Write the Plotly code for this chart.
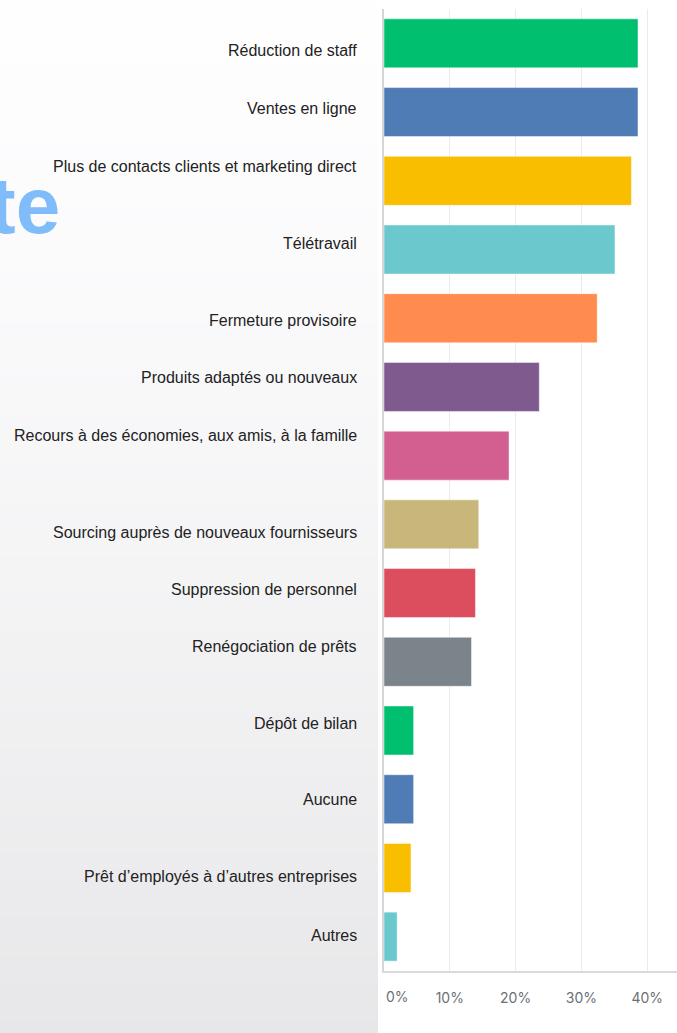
import plotly.graph_objects as go

# Survey answers (multiple choice), share of respondents in %
categories = [
    "Réduction de staff",
    "Ventes en ligne",
    "Plus de contacts clients et marketing direct",
    "Télétravail",
    "Fermeture provisoire",
    "Produits adaptés ou nouveaux",
    "Recours à des économies, aux amis, à la famille",
    "Sourcing auprès de nouveaux fournisseurs",
    "Suppression de personnel",
    "Renégociation de prêts",
    "Dépôt de bilan",
    "Aucune",
    "Prêt d’employés à d’autres entreprises",
    "Autres",
]
shares = [38.6, 38.6, 37.6, 35.1, 32.4, 23.6, 19.0, 14.4, 13.9, 13.3, 4.5, 4.5, 4.1, 2.0]
tick_values = [0, 10, 20, 30, 40]
tick_labels = ["0%", "10%", "20%", "30%", "40%"]

# palette cycling over the bars
palette = ["#00BF6F", "#507CB6", "#F9BE00", "#6BC8CD", "#FF8B4F",
           "#7F5A8E", "#D25F90", "#C8B67B", "#DC4E5D", "#7B848B"]
bar_colors = [palette[i % len(palette)] for i in range(len(categories))]

# vertical nudge (px, positive = down) of each category label
label_nudge = [7, -4, -14, -6, 2, -9, -20, 8, -4, -15, -7, 0, 9, -1]

W, H = 677, 1033
M_L, M_R, M_T, M_B = 384, 0, 9, 62
PW, PH = W - M_L - M_R, H - M_T - M_B


def px_x(px):
    return (px - M_L) / PW


def px_y(py):
    return (H - M_B - py) / PH


fig = go.Figure()
fig.add_trace(go.Bar(
    y=categories,
    x=shares,
    orientation="h",
    marker=dict(color=bar_colors, line=dict(color="rgba(255,255,255,0.45)", width=1)),
    hoverinfo="x+y",
    showlegend=False,
))

# soft grey gradient panel behind the labels
shapes = []
n_strips = 80
top_c, bot_c = (254, 254, 255), (231, 231, 233)
for k in range(n_strips):
    y0 = H * k / n_strips
    y1 = H * (k + 1) / n_strips
    f = ((k + 0.5) / n_strips) ** 1.4
    c = tuple(round(a + (b - a) * f) for a, b in zip(top_c, bot_c))
    shapes.append(dict(
        type="rect", xref="paper", yref="paper", layer="below",
        x0=px_x(0), x1=px_x(378), y0=px_y(y1 + 0.5), y1=px_y(y0),
        fillcolor="rgb(%d,%d,%d)" % c, line=dict(width=0),
    ))

annotations = []
for cat, nudge in zip(categories, label_nudge):
    annotations.append(dict(
        xref="paper", yref="y", x=px_x(359), y=cat, xanchor="right", yanchor="middle",
        yshift=-nudge, text=cat, showarrow=False,
        font=dict(family="Liberation Sans, Arial, sans-serif", size=16, color="#222222"),
    ))

# first tick label sits flush with the axis
annotations.append(dict(
    xref="x", yref="paper", x=0, y=px_y(996), xanchor="left", yanchor="middle",
    xshift=0, text=tick_labels[0], showarrow=False,
    font=dict(family="Inter, sans-serif", size=14, color="#6B7075"),
))

# large headline fragment on the left panel
annotations.append(dict(
    xref="paper", yref="paper", x=px_x(62), y=px_y(205), xanchor="right", yanchor="middle",
    text="<b>te</b>", showarrow=False,
    font=dict(family="Liberation Sans, Arial, sans-serif", size=80, color="#7FBCF9"),
))

fig.update_layout(
    width=W, height=H,
    margin=dict(l=M_L, r=M_R, t=M_T, b=M_B, pad=0),
    paper_bgcolor="#FFFFFF",
    plot_bgcolor="#FFFFFF",
    bargap=0.287,
    shapes=shapes,
    annotations=annotations,
    showlegend=False,
    xaxis=dict(
        range=[0, PW / 6.58],
        tickvals=tick_values,
        ticktext=[""] + tick_labels[1:],
        showgrid=True, gridcolor="#EBEBEB", gridwidth=1,
        zeroline=False,
        showline=True, linecolor="#D9D9D9", linewidth=1.5,
        ticks="",
        ticklabelstandoff=13,
        tickfont=dict(family="Inter, sans-serif", size=14, color="#6B7075"),
        fixedrange=True,
    ),
    yaxis=dict(
        categoryorder="array", categoryarray=categories,
        range=[len(categories) - 0.5, -0.5],
        showticklabels=False, showgrid=False, zeroline=False,
        showline=True, linecolor="#D6D6D6", linewidth=1.5,
        ticks="",
        fixedrange=True,
    ),
)

fig.write_html("out.html", config={"displayModeBar": False})
